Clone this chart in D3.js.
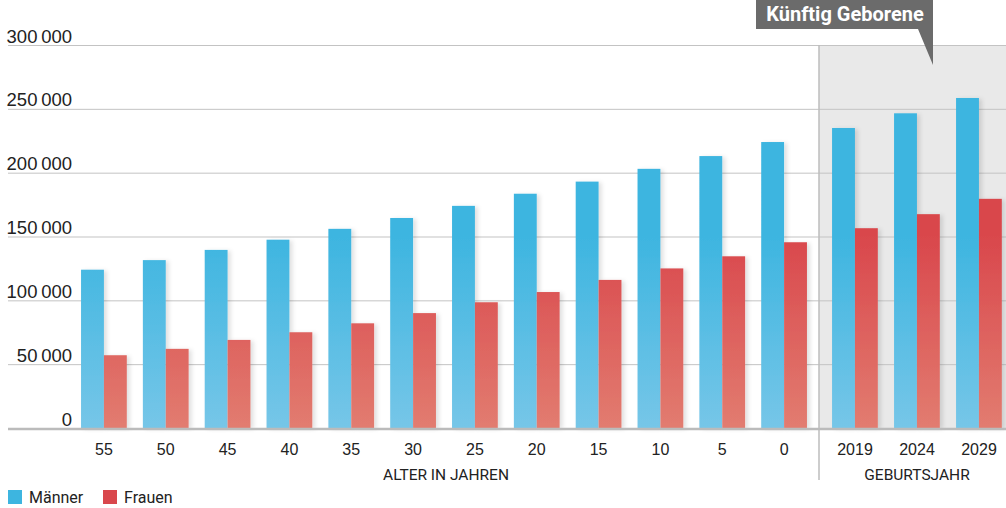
<!DOCTYPE html>
<html>
<head>
<meta charset="utf-8">
<script src="https://cdn.jsdelivr.net/npm/d3@7"></script>
<style>
  body { margin: 0; background: #fff; }
  svg { display: block; font-family: Roboto, "Noto Sans", sans-serif; }
</style>
</head>
<body>
<div class="chart"></div>
<script>
// chart data
const ages = ["55", "50", "45", "40", "35", "30", "25", "20", "15", "10", "5", "0"];
const years = ["2019", "2024", "2029"];
const maenner = [124000, 131500, 139500, 147500, 156000, 164500, 174000, 183500, 193000, 203000, 213000, 224000, 235000, 246500, 258500];
const frauen = [57000, 62000, 69000, 75000, 82000, 90000, 98500, 106500, 116000, 125000, 134500, 145500, 156500, 167500, 179500];
const yTicks = [0, 50000, 100000, 150000, 200000, 250000, 300000];
const series = ["Männer", "Frauen"];

const width = 1006;
const height = 508;
const left = 8;
const y0 = 428;

const cats = ages.concat(years);
const rows = cats.map((c, i) => ({ cat: c, values: [maenner[i], frauen[i]] }));

const yScale = d3.scaleLinear().domain([0, 300000]).range([y0, 45]);

// two band scales: ages, then birth years after the divider
const xAge = d3.scaleBand().domain(ages).range([73, 815]).paddingInner(0.26).paddingOuter(0.13);
const xYear = d3.scaleBand().domain(years).range([824, 1010]).paddingInner(0.26).paddingOuter(0.13);
const xPos = c => ages.includes(c) ? xAge(c) : xYear(c);
const xSeries = d3.scaleBand().domain([0, 1]).range([0, xAge.bandwidth()]);

const fmt = d3.formatLocale({ decimal: ",", thousands: "\u2009", grouping: [3], currency: ["", "€"] }).format(",d");

const svg = d3.select(".chart").append("svg")
  .attr("width", width)
  .attr("height", height);

const defs = svg.append("defs");
const grads = [["gBlue", "#3db5e0", "#76c6e8"], ["gRed", "#d9474c", "#e27c70"]];
grads.forEach(g => {
  const lg = defs.append("linearGradient")
    .attr("id", g[0])
    .attr("gradientUnits", "userSpaceOnUse")
    .attr("x1", 0).attr("x2", 0).attr("y1", 235).attr("y2", y0);
  lg.append("stop").attr("offset", 0).attr("stop-color", g[1]);
  lg.append("stop").attr("offset", 1).attr("stop-color", g[2]);
});
defs.append("filter").attr("id", "shadow")
  .attr("x", "-20%").attr("y", "-5%").attr("width", "150%").attr("height", "110%")
  .append("feDropShadow")
  .attr("dx", 3).attr("dy", 1).attr("stdDeviation", 2)
  .attr("flood-color", "#000").attr("flood-opacity", 0.12);

// shaded area for the future births
const divX = 819;
svg.append("rect")
  .attr("x", divX).attr("y", yScale(300000))
  .attr("width", width - divX).attr("height", y0 - yScale(300000))
  .attr("fill", "#e9e9e9");

// y grid + labels
const yAxis = d3.axisLeft(yScale)
  .tickValues(yTicks)
  .tickSize(-(width - left))
  .tickFormat(fmt);

const gy = svg.append("g")
  .attr("transform", "translate(" + left + ",0)")
  .call(yAxis);
gy.select(".domain").remove();
gy.selectAll("line").attr("stroke", "#c3c3c3").attr("stroke-width", 1);
gy.selectAll("text")
  .attr("x", 64)
  .attr("dy", -3)
  .attr("text-anchor", "end")
  .attr("fill", "#222")
  .attr("font-size", 18.5);

// divider line
svg.append("line")
  .attr("x1", divX).attr("x2", divX)
  .attr("y1", yScale(300000)).attr("y2", 480)
  .attr("stroke", "#bdbdbd").attr("stroke-width", 1.5);

// bars
const grp = svg.append("g").selectAll("g")
  .data(rows)
  .enter()
  .append("g")
  .attr("transform", d => "translate(" + xPos(d.cat) + ",0)");

grp.selectAll("rect")
  .data(d => d.values)
  .enter()
  .append("rect")
  .attr("x", (d, i) => xSeries(i))
  .attr("y", d => yScale(d))
  .attr("width", xSeries.bandwidth())
  .attr("height", d => y0 - yScale(d))
  .attr("fill", (d, i) => i === 0 ? "url(#gBlue)" : "url(#gRed)")
  .attr("filter", "url(#shadow)");

// x axis line
svg.append("line")
  .attr("x1", left).attr("x2", width)
  .attr("y1", y0 + 1).attr("y2", y0 + 1)
  .attr("stroke", "#bbbbbb").attr("stroke-width", 2.5);

// x tick labels
const xAxisAge = d3.axisBottom(xAge).tickSize(0);
const xAxisYear = d3.axisBottom(xYear).tickSize(0);
[xAxisAge, xAxisYear].forEach(ax => {
  const g = svg.append("g")
    .attr("transform", "translate(0," + y0 + ")")
    .call(ax);
  g.select(".domain").remove();
  g.selectAll("text")
    .attr("y", 27)
    .attr("dy", 0)
    .attr("fill", "#222")
    .attr("font-size", 16);
});

svg.append("text")
  .attr("x", (xAge.range()[0] + xAge.range()[1]) / 2 + 2)
  .attr("y", 480)
  .attr("text-anchor", "middle")
  .attr("font-size", 15.5)
  .attr("fill", "#222")
  .text("ALTER IN JAHREN");

svg.append("text")
  .attr("x", xYear(years[1]) + xYear.bandwidth() / 2)
  .attr("y", 480)
  .attr("text-anchor", "middle")
  .attr("font-size", 15.5)
  .attr("fill", "#222")
  .text("GEBURTSJAHR");

// callout
const call = svg.append("g");
call.append("path")
  .attr("d", "M756,0 H933 V29 H933 L933,65 L918,29 H756 Z")
  .attr("fill", "#6b6b6b");
call.append("text")
  .attr("x", 845)
  .attr("y", 21)
  .attr("text-anchor", "middle")
  .attr("font-weight", "bold")
  .attr("font-size", 20)
  .attr("fill", "#fff")
  .text("Künftig Geborene");

// legend
const colors = ["#3db5e0", "#d9474c"];
const legend = svg.append("g");
const lx = [8, 103];
series.forEach((s, i) => {
  legend.append("rect")
    .attr("x", lx[i]).attr("y", 490)
    .attr("width", 14).attr("height", 14)
    .attr("fill", colors[i]);
  legend.append("text")
    .attr("x", lx[i] + 21).attr("y", 503)
    .attr("font-size", 16)
    .attr("fill", "#222")
    .text(s);
});
</script>
</body>
</html>
